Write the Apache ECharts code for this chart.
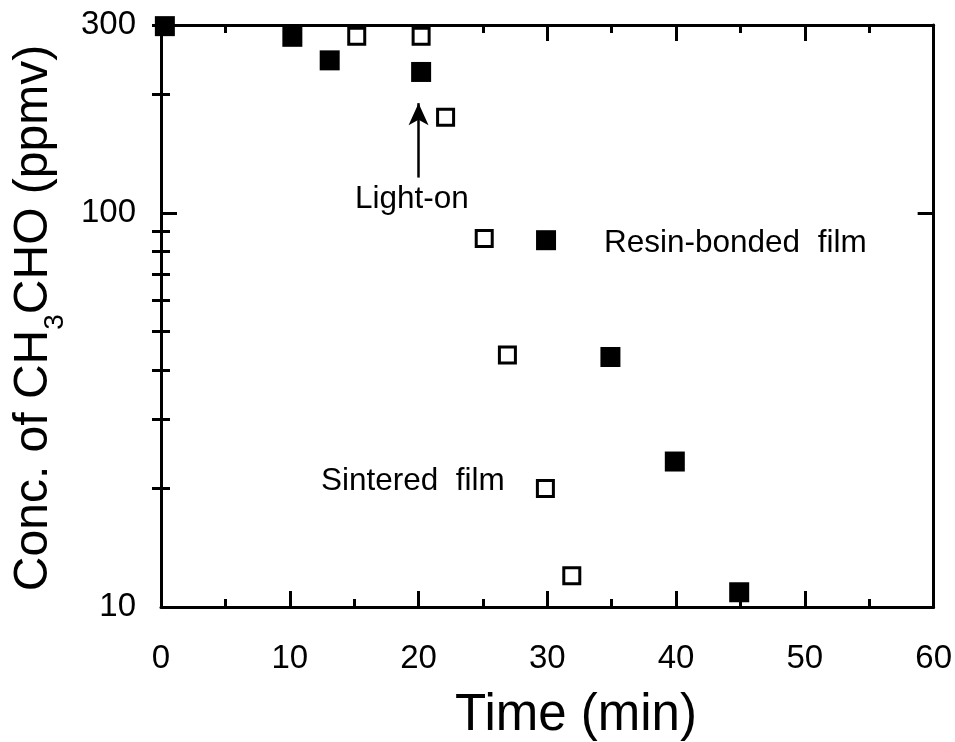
<!DOCTYPE html>
<html>
<head>
<meta charset="utf-8">
<script src="https://cdn.jsdelivr.net/npm/echarts@6/dist/echarts.min.js"></script>
<style>
  html, body { margin: 0; padding: 0; background: #fff; }
  #chart { width: 955px; height: 742px; }
</style>
</head>
<body>
<div id="chart"></div>
<script>
// Acetaldehyde decay, time in minutes, concentration in ppmv
var resinTime = [0.3, 10.2, 13.1, 20.2, 29.9, 34.9, 39.9, 44.9];
var resinConc = [298, 280, 244, 228, 85.3, 43.1, 23.4, 10.9];

var sinterTime = [15.2, 20.2, 22.1, 25.1, 26.9, 29.85, 31.9];
var sinterConc = [281, 281, 175, 86.1, 43.6, 20.0, 12.0];

// Light-on marker: time and concentration span of the arrow
var lightOnTime = 20;
var lightOnSpan = [123, 190];

// Axis tick values
var yLabelValues = [10, 100, 300];
var yMajorTicks = [10, 100];
var yMinorTicks = [20, 30, 40, 50, 60, 70, 80, 90, 200, 300];

var FONT = "'Liberation Sans', Arial, Helvetica, sans-serif";

function pairs(xs, ys) {
  return xs.map(function (x, i) { return [x, ys[i]]; });
}

var chart = echarts.init(document.getElementById('chart'), null, { renderer: 'canvas' });

var axisLine = { show: true, onZero: false, lineStyle: { color: '#000', width: 3 } };

function xAxisDef(pos, showLabel) {
  return {
    type: 'value', min: 0, max: 60, interval: 10, position: pos,
    axisLine: axisLine,
    axisTick: { show: true, inside: true, length: 16, lineStyle: { color: '#000', width: 3 } },
    minorTick: { show: true, splitNumber: 2, length: 8, lineStyle: { color: '#000', width: 3 } },
    axisLabel: { show: showLabel, fontSize: 33, margin: 35, color: '#000', fontFamily: FONT },
    splitLine: { show: false }, minorSplitLine: { show: false }
  };
}

function yAxisDef(pos, ticks, len, labels, showLine) {
  return {
    type: 'log', logBase: 10, min: 10, max: 300, position: pos,
    axisLine: showLine ? axisLine : { show: false },
    axisTick: { show: true, inside: true, length: len, customValues: ticks,
      lineStyle: { color: '#000', width: 3 } },
    axisLabel: labels ? { show: true, customValues: labels, fontSize: 33, margin: 25,
      color: '#000', fontFamily: FONT } : { show: false },
    splitLine: { show: false }
  };
}

chart.setOption({
  animation: false,
  backgroundColor: '#fff',
  grid: { left: 161, right: 18, top: 25, bottom: 135, containLabel: false },
  xAxis: [xAxisDef('bottom', true), xAxisDef('top', false)],
  yAxis: [
    yAxisDef('left', yMajorTicks, 16, yLabelValues, true),
    yAxisDef('left', yMinorTicks, 9, null, false),
    yAxisDef('right', yMajorTicks, 16, null, true),
    yAxisDef('right', yMinorTicks, 9, null, false)
  ],
  series: [
    {
      name: 'Sintered film',
      type: 'scatter',
      symbol: 'rect',
      symbolSize: 16,
      clip: false,
      itemStyle: { color: '#fff', borderColor: '#000', borderWidth: 3, opacity: 1 },
      data: pairs(sinterTime, sinterConc),
      markLine: {
        silent: true,
        symbol: ['none', 'arrow'],
        symbolSize: [15, 22],
        label: { show: false },
        lineStyle: { color: '#000', width: 2.5, type: 'solid' },
        data: [[{ coord: [lightOnTime, lightOnSpan[0]] }, { coord: [lightOnTime, lightOnSpan[1]] }]]
      }
    },
    {
      name: 'Resin-bonded film',
      type: 'scatter',
      symbol: 'rect',
      symbolSize: 20,
      clip: false,
      itemStyle: { color: '#000', opacity: 1 },
      data: pairs(resinTime, resinConc)
    }
  ],
  graphic: [
    {
      type: 'text', x: 34, y: 318, rotation: Math.PI / 2,
      style: {
        text: 'Conc. of CH{s|3}CHO (ppmv)',
        font: '48px ' + FONT, fill: '#000',
        align: 'center', verticalAlign: 'middle', lineHeight: 70,
        rich: { s: { fontSize: 28, fontFamily: FONT, verticalAlign: 'bottom', lineHeight: 30 } }
      }
    },
    {
      type: 'text', x: 576, y: 716,
      style: { text: 'Time (min)', font: '51px ' + FONT, fill: '#000', align: 'center', verticalAlign: 'middle' }
    },
    {
      type: 'text', x: 355, y: 199,
      style: { text: 'Light-on', font: '31.5px ' + FONT, fill: '#000', align: 'left', verticalAlign: 'middle' }
    },
    {
      type: 'text', x: 604, y: 243,
      style: { text: 'Resin-bonded  film', font: '31.5px ' + FONT, fill: '#000', align: 'left', verticalAlign: 'middle' }
    },
    {
      type: 'text', x: 321, y: 481,
      style: { text: 'Sintered  film', font: '31.5px ' + FONT, fill: '#000', align: 'left', verticalAlign: 'middle' }
    }
  ]
});
</script>
</body>
</html>
